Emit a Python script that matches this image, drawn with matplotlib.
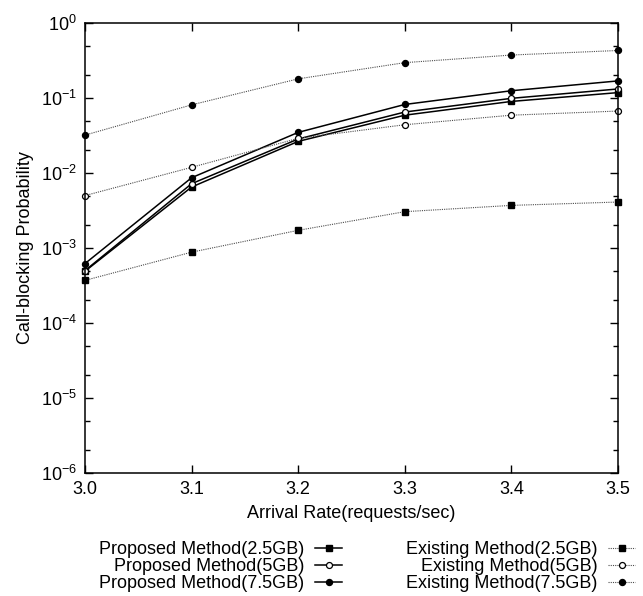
import numpy as np
import matplotlib
matplotlib.use("Agg")
import matplotlib.pyplot as plt
from matplotlib.ticker import LogLocator, LogFormatterSciNotation, NullFormatter

plt.rcParams["font.family"] = ["Liberation Sans", "DejaVu Sans"]
plt.rcParams["font.size"] = 13
plt.rcParams["mathtext.fontset"] = "custom"
plt.rcParams["mathtext.rm"] = "Liberation Sans"

# Arrival rate (requests/sec)
rate = [3.0, 3.1, 3.2, 3.3, 3.4, 3.5]

# Call-blocking probability
prop_25 = [0.00049, 0.0065, 0.0264, 0.059, 0.090, 0.118]
prop_5 = [0.00050, 0.0072, 0.0284, 0.065, 0.099, 0.132]
prop_75 = [0.00062, 0.00865, 0.0348, 0.082, 0.125, 0.169]
exist_25 = [0.00037, 0.00088, 0.00172, 0.00305, 0.0037, 0.0041]
exist_5 = [0.0050, 0.0119, 0.029, 0.044, 0.059, 0.067]
exist_75 = [0.032, 0.081, 0.18, 0.296, 0.374, 0.43]

labels = [
    "Proposed Method(2.5GB)",
    "Proposed Method(5GB)",
    "Proposed Method(7.5GB)",
    "Existing Method(2.5GB)",
    "Existing Method(5GB)",
    "Existing Method(7.5GB)",
]

fig = plt.figure(figsize=(6.43, 5.96), dpi=100)
ax = fig.add_axes([85 / 643, 1 - 473 / 596, (618 - 85) / 643, (473 - 23) / 596])

solid = dict(color="black", linestyle="-", linewidth=1.1)
dotted = dict(color="0.3", linestyle=(0, (1, 1)), linewidth=0.8)
sq = dict(marker="s", markersize=4.3, markerfacecolor="black", markeredgecolor="black")
oc = dict(marker="o", markersize=4.3, markerfacecolor="white", markeredgecolor="black", markeredgewidth=0.9)
fc = dict(marker="o", markersize=4.3, markerfacecolor="black", markeredgecolor="black")

h = []
h += ax.plot(rate, prop_25, **solid, **sq)
h += ax.plot(rate, prop_5, **solid, **oc)
h += ax.plot(rate, prop_75, **solid, **fc)
h += ax.plot(rate, exist_25, **dotted, **sq)
h += ax.plot(rate, exist_5, **dotted, **oc)
h += ax.plot(rate, exist_75, **dotted, **fc)

for line in h:
    line.set_clip_on(False)

ax.set_yscale("log")
ax.set_xlim(3.0, 3.5)
ax.set_ylim(1e-6, 1e0)
ax.set_xticks(rate)
ax.set_xticklabels([f"{v:.1f}" for v in rate])
ax.yaxis.set_major_locator(LogLocator(base=10, numticks=10))
ax.yaxis.set_major_formatter(LogFormatterSciNotation())
ax.yaxis.set_minor_locator(LogLocator(base=10, subs=(2.0, 5.0), numticks=10))
ax.yaxis.set_minor_formatter(NullFormatter())

ax.tick_params(which="both", direction="in", top=True, right=True, width=1.0)
ax.tick_params(which="major", length=6, pad=6)
ax.tick_params(which="minor", length=3.5)
for s in ax.spines.values():
    s.set_linewidth(1.1)

ax.set_xlabel("Arrival Rate(requests/sec)", labelpad=5)
ax.set_ylabel("Call-blocking Probability", labelpad=5)

fig.legend(
    h,
    labels,
    loc="center",
    bbox_to_anchor=(0.571, 0.049),
    ncol=2,
    markerfirst=False,
    frameon=False,
    numpoints=1,
    handlelength=1.5,
    handletextpad=0.6,
    columnspacing=3.5,
    labelspacing=0.0,
    borderpad=0,
)

fig.savefig("out.png", dpi=100)
